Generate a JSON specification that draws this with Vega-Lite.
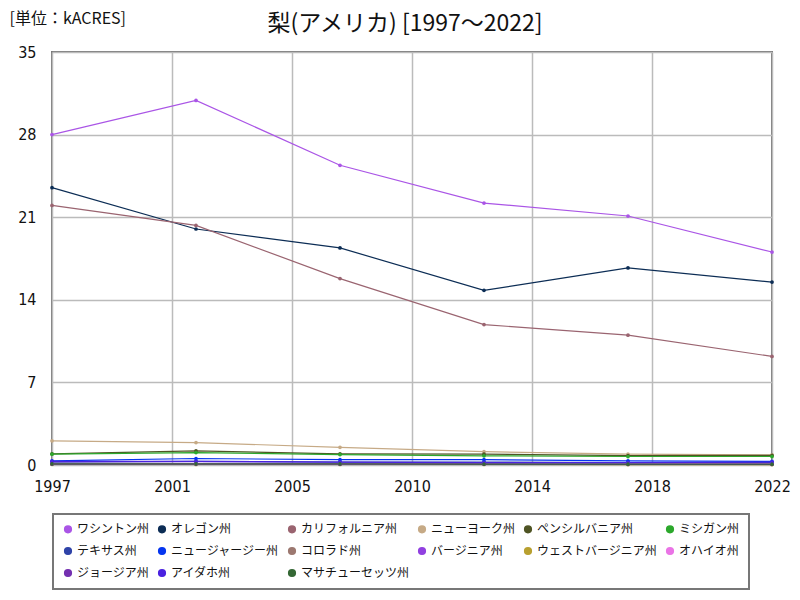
{
  "$schema": "https://vega.github.io/schema/vega-lite/v6.json",
  "width": 720,
  "height": 413,
  "autosize": {"type": "none"},
  "padding": {"left": 52, "top": 52, "right": 28, "bottom": 135},
  "background": "white",
  "title": {
    "text": "梨(アメリカ) [1997～2022]",
    "font": "Noto Sans CJK JP",
    "fontSize": 23,
    "fontWeight": "normal",
    "color": "#111",
    "anchor": "middle",
    "offset": 0,
    "dy": 26,
    "dx": -7
  },
  "config": {
    "view": {"stroke": "#777", "strokeWidth": 2},
    "font": "Noto Sans CJK JP"
  },
  "data": {
    "values": [
      {"state": "ワシントン州", "year": 1997, "v": 28.0},
      {"state": "ワシントン州", "year": 2002, "v": 30.9},
      {"state": "ワシントン州", "year": 2007, "v": 25.4},
      {"state": "ワシントン州", "year": 2012, "v": 22.2},
      {"state": "ワシントン州", "year": 2017, "v": 21.1},
      {"state": "ワシントン州", "year": 2022, "v": 18.05},
      {"state": "オレゴン州", "year": 1997, "v": 23.5},
      {"state": "オレゴン州", "year": 2002, "v": 20.0},
      {"state": "オレゴン州", "year": 2007, "v": 18.4},
      {"state": "オレゴン州", "year": 2012, "v": 14.8},
      {"state": "オレゴン州", "year": 2017, "v": 16.7},
      {"state": "オレゴン州", "year": 2022, "v": 15.5},
      {"state": "カリフォルニア州", "year": 1997, "v": 22.0},
      {"state": "カリフォルニア州", "year": 2002, "v": 20.3},
      {"state": "カリフォルニア州", "year": 2007, "v": 15.8},
      {"state": "カリフォルニア州", "year": 2012, "v": 11.9},
      {"state": "カリフォルニア州", "year": 2017, "v": 11.0},
      {"state": "カリフォルニア州", "year": 2022, "v": 9.2},
      {"state": "ニューヨーク州", "year": 1997, "v": 2.05},
      {"state": "ニューヨーク州", "year": 2002, "v": 1.9},
      {"state": "ニューヨーク州", "year": 2007, "v": 1.5},
      {"state": "ニューヨーク州", "year": 2012, "v": 1.13},
      {"state": "ニューヨーク州", "year": 2017, "v": 0.92},
      {"state": "ニューヨーク州", "year": 2022, "v": 0.85},
      {"state": "ペンシルバニア州", "year": 1997, "v": 0.95},
      {"state": "ペンシルバニア州", "year": 2002, "v": 1.2},
      {"state": "ペンシルバニア州", "year": 2007, "v": 0.95},
      {"state": "ペンシルバニア州", "year": 2012, "v": 0.92},
      {"state": "ペンシルバニア州", "year": 2017, "v": 0.8},
      {"state": "ペンシルバニア州", "year": 2022, "v": 0.82},
      {"state": "ミシガン州", "year": 1997, "v": 0.92},
      {"state": "ミシガン州", "year": 2002, "v": 1.05},
      {"state": "ミシガン州", "year": 2007, "v": 0.88},
      {"state": "ミシガン州", "year": 2012, "v": 0.78},
      {"state": "ミシガン州", "year": 2017, "v": 0.72},
      {"state": "ミシガン州", "year": 2022, "v": 0.72},
      {"state": "テキサス州", "year": 1997, "v": 0.25},
      {"state": "テキサス州", "year": 2002, "v": 0.3},
      {"state": "テキサス州", "year": 2007, "v": 0.25},
      {"state": "テキサス州", "year": 2012, "v": 0.25},
      {"state": "テキサス州", "year": 2017, "v": 0.2},
      {"state": "テキサス州", "year": 2022, "v": 0.2},
      {"state": "ニュージャージー州", "year": 1997, "v": 0.35},
      {"state": "ニュージャージー州", "year": 2002, "v": 0.55},
      {"state": "ニュージャージー州", "year": 2007, "v": 0.45},
      {"state": "ニュージャージー州", "year": 2012, "v": 0.45},
      {"state": "ニュージャージー州", "year": 2017, "v": 0.35},
      {"state": "ニュージャージー州", "year": 2022, "v": 0.3},
      {"state": "コロラド州", "year": 1997, "v": 0.1},
      {"state": "コロラド州", "year": 2002, "v": 0.12},
      {"state": "コロラド州", "year": 2007, "v": 0.1},
      {"state": "コロラド州", "year": 2012, "v": 0.08},
      {"state": "コロラド州", "year": 2017, "v": 0.07},
      {"state": "コロラド州", "year": 2022, "v": 0.06},
      {"state": "バージニア州", "year": 1997, "v": 0.15},
      {"state": "バージニア州", "year": 2002, "v": 0.15},
      {"state": "バージニア州", "year": 2007, "v": 0.15},
      {"state": "バージニア州", "year": 2012, "v": 0.14},
      {"state": "バージニア州", "year": 2017, "v": 0.12},
      {"state": "バージニア州", "year": 2022, "v": 0.12},
      {"state": "ウェストバージニア州", "year": 1997, "v": 0.05},
      {"state": "ウェストバージニア州", "year": 2002, "v": 0.05},
      {"state": "ウェストバージニア州", "year": 2007, "v": 0.05},
      {"state": "ウェストバージニア州", "year": 2012, "v": 0.05},
      {"state": "ウェストバージニア州", "year": 2017, "v": 0.04},
      {"state": "ウェストバージニア州", "year": 2022, "v": 0.04},
      {"state": "オハイオ州", "year": 1997, "v": 0.12},
      {"state": "オハイオ州", "year": 2002, "v": 0.12},
      {"state": "オハイオ州", "year": 2007, "v": 0.1},
      {"state": "オハイオ州", "year": 2012, "v": 0.1},
      {"state": "オハイオ州", "year": 2017, "v": 0.1},
      {"state": "オハイオ州", "year": 2022, "v": 0.1},
      {"state": "ジョージア州", "year": 1997, "v": 0.08},
      {"state": "ジョージア州", "year": 2002, "v": 0.08},
      {"state": "ジョージア州", "year": 2007, "v": 0.07},
      {"state": "ジョージア州", "year": 2012, "v": 0.07},
      {"state": "ジョージア州", "year": 2017, "v": 0.06},
      {"state": "ジョージア州", "year": 2022, "v": 0.06},
      {"state": "アイダホ州", "year": 1997, "v": 0.3},
      {"state": "アイダホ州", "year": 2002, "v": 0.3},
      {"state": "アイダホ州", "year": 2007, "v": 0.25},
      {"state": "アイダホ州", "year": 2012, "v": 0.2},
      {"state": "アイダホ州", "year": 2017, "v": 0.2},
      {"state": "アイダホ州", "year": 2022, "v": 0.25},
      {"state": "マサチューセッツ州", "year": 1997, "v": 0.1},
      {"state": "マサチューセッツ州", "year": 2002, "v": 0.1},
      {"state": "マサチューセッツ州", "year": 2007, "v": 0.09},
      {"state": "マサチューセッツ州", "year": 2012, "v": 0.08},
      {"state": "マサチューセッツ州", "year": 2017, "v": 0.07},
      {"state": "マサチューセッツ州", "year": 2022, "v": 0.07}
    ]
  },
  "encoding": {
    "x": {
      "field": "year",
      "type": "quantitative",
      "scale": {"domain": [1997, 2022], "nice": false, "zero": false},
      "axis": {
        "title": null,
        "values": [1997, 2001.1667, 2005.3333, 2009.5, 2013.6667, 2017.8333, 2022],
        "labelExpr": "round(datum.value)",
        "labelFlush": false,
        "labelOverlap": false,
        "labelFont": "DejaVu Sans Condensed",
        "labelFontSize": 16,
        "labelColor": "#111",
        "labelPadding": 13,
        "ticks": false,
        "domain": false,
        "grid": true,
        "gridColor": "#bbbbbb",
        "gridWidth": 1.5
      }
    },
    "y": {
      "field": "v",
      "type": "quantitative",
      "scale": {"domain": [0, 35], "nice": false},
      "axis": {
        "values": [0, 7, 14, 21, 28, 35],
        "title": "[単位：kACRES]",
        "titleAngle": 0,
        "titleAlign": "left",
        "titleBaseline": "middle",
        "titleX": -43,
        "titleY": -34,
        "titleFont": "Noto Sans CJK JP",
        "titleFontSize": 16,
        "titleFontWeight": "normal",
        "titleColor": "#111",
        "labelFont": "DejaVu Sans Condensed",
        "labelFontSize": 16,
        "labelColor": "#111",
        "labelPadding": 16,
        "labelFlush": false,
        "ticks": false,
        "domain": false,
        "grid": true,
        "gridColor": "#bbbbbb",
        "gridWidth": 1.5
      }
    },
    "color": {
      "field": "state",
      "type": "nominal",
      "scale": {
        "domain": ["ワシントン州", "オレゴン州", "カリフォルニア州", "ニューヨーク州", "ペンシルバニア州", "ミシガン州", "テキサス州", "ニュージャージー州", "コロラド州", "バージニア州", "ウェストバージニア州", "オハイオ州", "ジョージア州", "アイダホ州", "マサチューセッツ州"],
        "range": ["#aa55e6", "#0c2d55", "#9a6470", "#c6aa86", "#4f5424", "#2ca82c", "#2f43a8", "#0535f0", "#9c7870", "#9140e0", "#b8a030", "#ea74e6", "#7430b0", "#4a22e0", "#356835"]
      },
      "legend": {
        "orient": "none",
        "legendX": 1,
        "legendY": 462,
        "direction": "horizontal",
        "columns": 6,
        "title": null,
        "symbolType": "circle",
        "symbolSize": 45,
        "symbolOpacity": 1,
        "labelFont": "Noto Sans CJK JP",
        "labelFontSize": 12,
        "labelColor": "#111",
        "labelOffset": 3,
        "columnPadding": 5,
        "rowPadding": 8,
        "padding": 9,
        "strokeColor": "#777",
        "fillColor": "white",
        "labelLimit": 300,
        "encode": {"legend": {"update": {"strokeWidth": {"value": 2}}}}
      }
    }
  },
  "layer": [
    {"mark": {"type": "line", "strokeWidth": 1.2}},
    {"mark": {"type": "circle", "size": 14, "opacity": 1}}
  ]
}
